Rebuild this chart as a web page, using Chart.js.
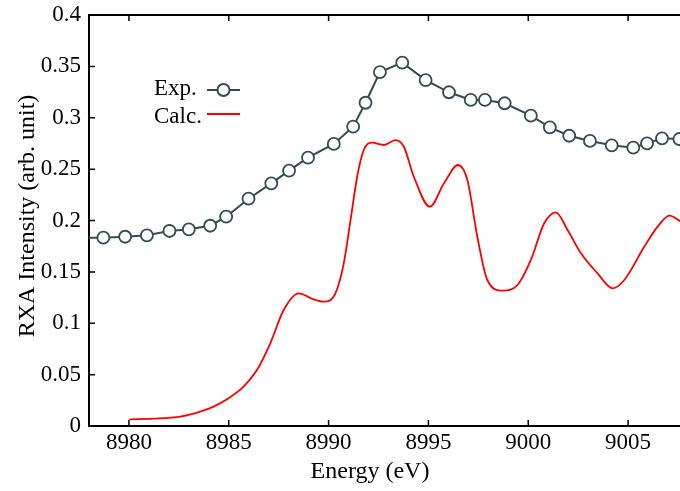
<!DOCTYPE html>
<html>
<head>
<meta charset="utf-8">
<script src="https://cdn.jsdelivr.net/npm/chart.js@4"></script>
<style>
  html, body { margin: 0; padding: 0; background: #fff; }
  #wrap { width: 680px; height: 491px; }
</style>
</head>
<body>
<div id="wrap"><canvas id="chart"></canvas></div>
<script>
// Experimental points (circles)
const expEnergy = [8977.4, 8978.72, 8979.81, 8980.90, 8982.03, 8983.00, 8984.07, 8984.87, 8985.99, 8987.13,
  8988.02, 8988.97, 8990.26, 8991.23, 8991.85, 8992.57, 8993.69, 8994.86, 8996.03, 8997.12,
  8997.83, 8998.82, 9000.13, 9001.08, 9002.05, 9003.09, 9004.18, 9005.26, 9005.95, 9006.70, 9007.57];
const expIntensity = [0.1830, 0.1833, 0.1842, 0.1856, 0.1898, 0.1914, 0.1949, 0.2037, 0.2212, 0.2362,
  0.2485, 0.2611, 0.2745, 0.2913, 0.3146, 0.3445, 0.3536, 0.3367, 0.3248, 0.3173,
  0.3173, 0.3141, 0.3020, 0.2907, 0.2825, 0.2774, 0.2732, 0.2709, 0.2751, 0.2800, 0.2793];

// Calculated spectrum (red line)
const calcEnergy = [8980.02, 8981.2, 8982.57, 8983.57, 8984.24, 8984.91, 8985.74, 8986.41, 8987.08, 8987.75,
  8988.50, 8989.25, 8989.76, 8990.34, 8990.76, 8991.10, 8991.43, 8991.76, 8992.18, 8992.77,
  8993.35, 8993.77, 8994.27, 8995.07, 8995.78, 8996.48, 8996.95, 8997.45, 8997.95, 8998.71,
  8999.46, 9000.13, 9000.80, 9001.38, 9001.97, 9002.64, 9003.47, 9004.23, 9004.81, 9005.81,
  9006.48, 9007.07, 9007.65];
const calcIntensity = [0.0065, 0.0071, 0.0091, 0.0139, 0.0188, 0.0260, 0.0383, 0.0545, 0.0805, 0.1129,
  0.1291, 0.1233, 0.1210, 0.1291, 0.1583, 0.2005, 0.2426, 0.2686, 0.2757, 0.2735,
  0.2783, 0.2718, 0.2426, 0.2134, 0.2362, 0.2540, 0.2394, 0.1842, 0.1421, 0.1317,
  0.1372, 0.1616, 0.1973, 0.2080, 0.1908, 0.1681, 0.1486, 0.1340, 0.1421, 0.1745,
  0.1940, 0.2047, 0.1988];

const xTickValues = [8980, 8985, 8990, 8995, 9000, 9005];
const yTickValues = [0, 0.05, 0.1, 0.15, 0.2, 0.25, 0.3, 0.35, 0.4];
const seriesLabels = ['Exp.', 'Calc.'];
const xTitle = 'Energy (eV)';
const yTitle = 'RXA Intensity (arb. unit)';

const FONT = 'Liberation Serif';
const EXP_COLOR = '#2f4f4f';
const CALC_COLOR = '#ff0000';

// inward tick marks, legend and axis titles, gnuplot style
const decorations = {
  id: 'decorations',
  afterDraw(chart) {
    const ctx = chart.ctx;
    const a = chart.chartArea;
    const xs = chart.scales.x;
    const ys = chart.scales.y;
    ctx.save();
    ctx.strokeStyle = '#000';
    ctx.lineWidth = 1.5;
    ctx.beginPath();
    xTickValues.forEach(v => {
      const px = xs.getPixelForValue(v);
      ctx.moveTo(px, a.bottom); ctx.lineTo(px, a.bottom - 6);
      ctx.moveTo(px, a.top); ctx.lineTo(px, a.top + 6);
    });
    yTickValues.forEach(v => {
      const py = ys.getPixelForValue(v);
      ctx.moveTo(a.left, py); ctx.lineTo(a.left + 6, py);
    });
    ctx.stroke();

    // legend
    ctx.fillStyle = '#000';
    ctx.font = `23px "${FONT}"`;
    ctx.textAlign = 'left';
    ctx.textBaseline = 'alphabetic';
    ctx.fillText(seriesLabels[0], 154, 95);
    ctx.fillText(seriesLabels[1], 154, 123);
    ctx.strokeStyle = EXP_COLOR;
    ctx.lineWidth = 2;
    ctx.beginPath();
    ctx.moveTo(207, 90); ctx.lineTo(240, 90);
    ctx.stroke();
    ctx.fillStyle = '#fff';
    ctx.beginPath();
    ctx.arc(223.5, 90, 6, 0, Math.PI * 2);
    ctx.fill();
    ctx.stroke();
    ctx.strokeStyle = CALC_COLOR;
    ctx.lineWidth = 1.8;
    ctx.beginPath();
    ctx.moveTo(207, 114); ctx.lineTo(240, 114);
    ctx.stroke();

    // axis titles
    ctx.fillStyle = '#000';
    ctx.font = `24px "${FONT}"`;
    ctx.textAlign = 'center';
    ctx.fillText(xTitle, 370, 478);
    ctx.translate(34, 216);
    ctx.rotate(-Math.PI / 2);
    ctx.fillText(yTitle, 0, 0);
    ctx.restore();
  }
};

new Chart(document.getElementById('chart'), {
  type: 'line',
  data: {
    datasets: [
      {
        label: seriesLabels[1],
        data: calcEnergy.map((x, i) => ({ x, y: calcIntensity[i] })),
        borderColor: CALC_COLOR,
        borderWidth: 1.8,
        pointRadius: 0,
        cubicInterpolationMode: 'monotone',
        fill: false
      },
      {
        label: seriesLabels[0],
        data: expEnergy.map((x, i) => ({ x, y: expIntensity[i] })),
        borderColor: EXP_COLOR,
        borderWidth: 2,
        pointRadius: 6,
        pointBorderWidth: 1.8,
        pointBorderColor: EXP_COLOR,
        pointBackgroundColor: '#fff',
        tension: 0,
        fill: false
      }
    ]
  },
  options: {
    responsive: true,
    maintainAspectRatio: false,
    animation: false,
    layout: { padding: 0, autoPadding: false },
    plugins: {
      legend: { display: false },
      tooltip: { enabled: false }
    },
    scales: {
      x: {
        type: 'linear',
        position: 'bottom',
        min: 8978,
        max: 9007.6,
        afterBuildTicks: s => { s.ticks = xTickValues.map(v => ({ value: v })); },
        afterFit: s => { s.height = 65; s.paddingLeft = 0; s.paddingRight = 0; },
        grid: { display: false, drawTicks: false },
        border: { display: true, color: '#000', width: 2 },
        ticks: {
          color: '#000',
          padding: 3,
          maxRotation: 0,
          font: { family: FONT, size: 23 },
          callback: v => String(v)
        }
      },
      x2: {
        type: 'linear',
        position: 'top',
        min: 8978,
        max: 9007.6,
        afterFit: s => { s.height = 15; },
        grid: { display: false, drawTicks: false },
        border: { display: true, color: '#000', width: 2 },
        ticks: { display: false }
      },
      y: {
        min: 0,
        max: 0.4,
        afterBuildTicks: s => { s.ticks = yTickValues.map(v => ({ value: v })); },
        afterFit: s => { s.width = 89; s.paddingTop = 0; s.paddingBottom = 0; },
        grid: { display: false, drawTicks: false },
        border: { display: true, color: '#000', width: 2 },
        ticks: {
          color: '#000',
          padding: 8,
          font: { family: FONT, size: 23 },
          callback: v => String(+v.toFixed(2))
        }
      }
    }
  },
  plugins: [decorations]
});
</script>
</body>
</html>
